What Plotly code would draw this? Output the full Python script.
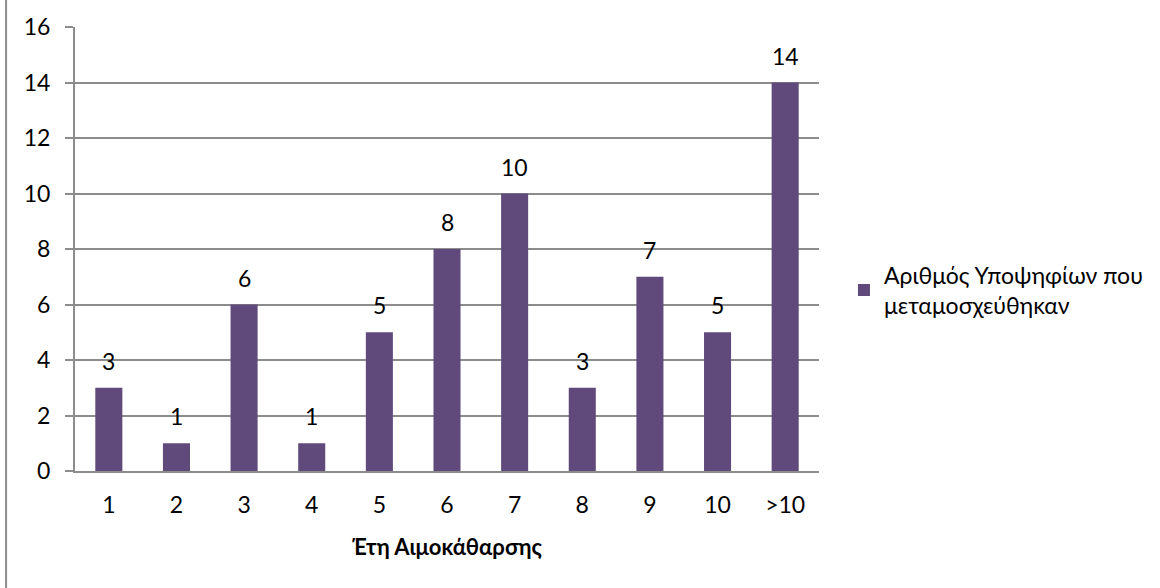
import plotly.graph_objects as go

categories = ["1", "2", "3", "4", "5", "6", "7", "8", "9", "10", ">10"]
values = [3, 1, 6, 1, 5, 8, 10, 3, 7, 5, 14]
series_name = "Αριθμός Υποψηφίων που<br>μεταμοσχεύθηκαν"
x_title = "Έτη Αιμοκάθαρσης"
y_ticks = [0, 2, 4, 6, 8, 10, 12, 14, 16]

FONT = "Lato, 'Open Sans', sans-serif"
FS = 23
BAR = "#604a7b"
GRID = "#8c8c8c"

W, H = 1160, 588
L, R, T, B = 75, 340, 23, 117
pw, ph = W - L - R, H - T - B

fig = go.Figure()
fig.add_trace(go.Bar(
    x=categories, y=values, name=series_name,
    marker=dict(color=BAR, line=dict(width=0)),
    showlegend=True,
))

for i, v in enumerate(values):
    fig.add_annotation(x=i, y=v, xref="x", yref="y", text=str(v), showarrow=False,
                       yanchor="middle", yshift=27,
                       font=dict(family=FONT, size=FS, color="#000000"))

fig.update_layout(
    width=W, height=H,
    margin=dict(l=L, r=R, t=T, b=B, pad=0),
    paper_bgcolor="white", plot_bgcolor="white",
    font=dict(family=FONT, size=FS, color="#000000"),
    bargap=0.6,
    showlegend=True,
    legend=dict(
        x=1 + (845 - 820) / pw, y=(471 - 288.5) / ph, xanchor="left", yanchor="middle",
        font=dict(family=FONT, size=FS, color="#000000"),
        bgcolor="rgba(0,0,0,0)", tracegroupgap=0,
    ),
    xaxis=dict(
        title=dict(text="<b>" + x_title + "</b>", font=dict(family=FONT, size=22), standoff=23),
        showline=True, linecolor=GRID, linewidth=2,
        ticks="", tickfont=dict(family=FONT, size=FS),
        showgrid=False, ticklabelstandoff=12,
    ),
    yaxis=dict(
        range=[0, 16], tickvals=y_ticks, ticktext=[str(v) for v in y_ticks],
        showline=True, linecolor=GRID, linewidth=2,
        ticks="outside", ticklen=8, tickcolor=GRID, tickwidth=2,
        showgrid=True, gridcolor=GRID, gridwidth=2,
        zeroline=False, tickfont=dict(family=FONT, size=FS),
        ticklabelstandoff=10,
    ),
)

# chart outer border (left edge visible)
fig.add_shape(type="line", xref="paper", yref="paper",
              x0=(6 - L) / pw, x1=(6 - L) / pw, y0=-(B + 5) / ph, y1=1 + (T + 5) / ph,
              line=dict(color=GRID, width=2))

fig.write_html("out.html", config={"displayModeBar": False},
               post_script="document.body.style.margin='0';")
